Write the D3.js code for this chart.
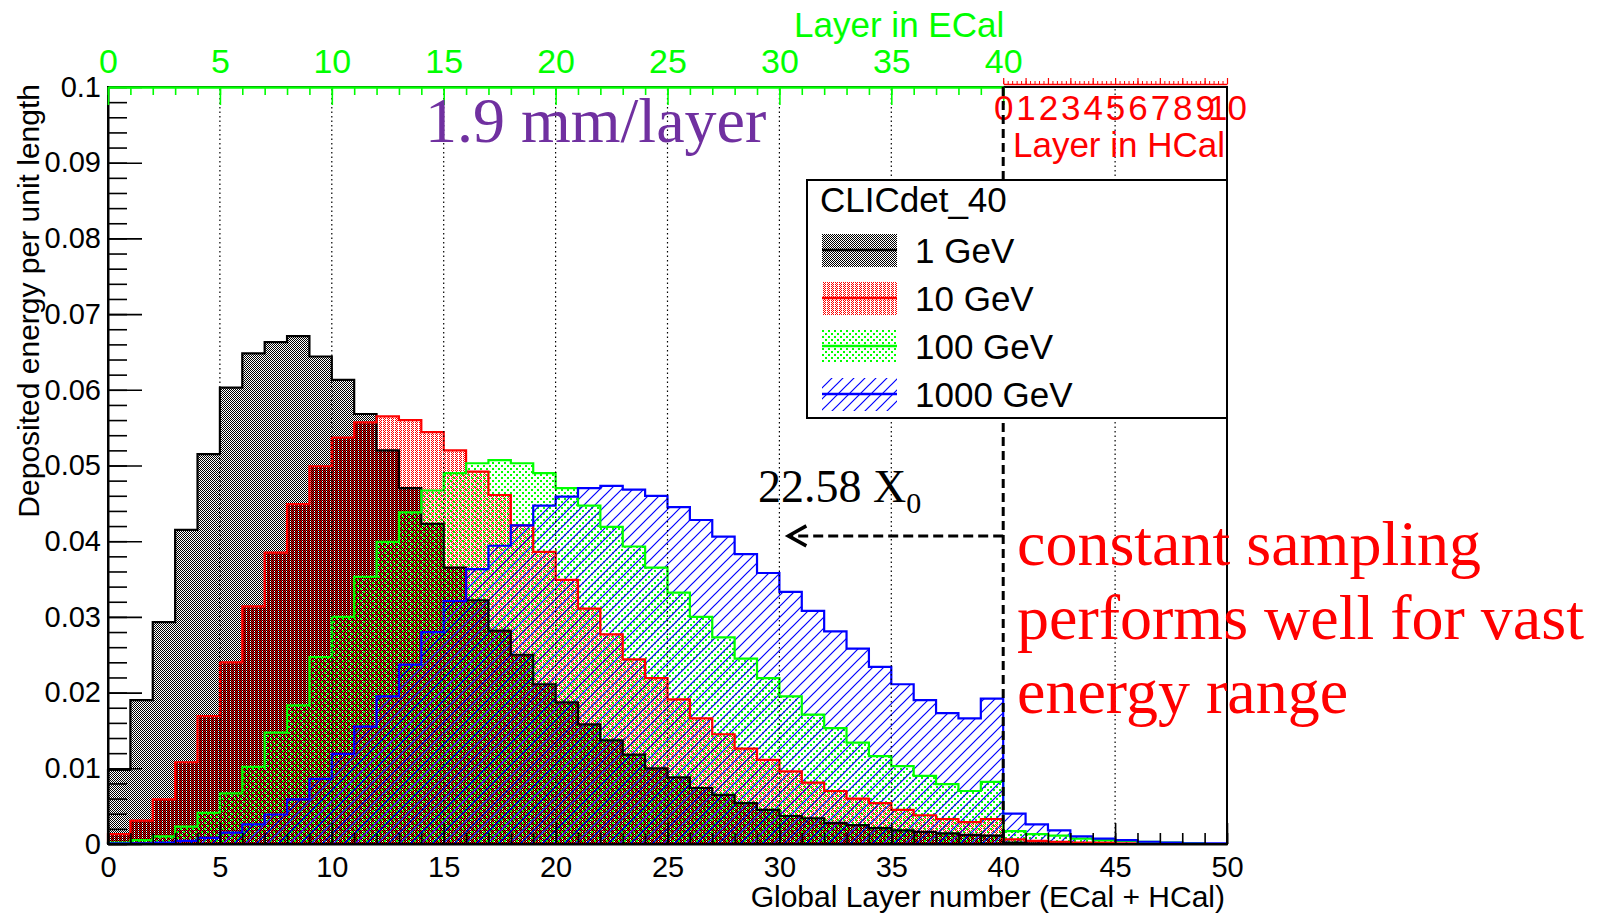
<!DOCTYPE html>
<html><head><meta charset="utf-8">
<script src="https://cdn.jsdelivr.net/npm/d3@7"></script>
<style>html,body{margin:0;padding:0;background:#fff}svg{display:block}</style>
</head><body>
<svg id="c" width="1603" height="914"></svg>
<script>
// ---------- data ----------
const e1GeV = [0.0098,0.0190,0.0293,0.0415,0.0515,0.0603,0.0648,0.0663,0.0671,0.0644,
  0.0613,0.0568,0.0520,0.0470,0.0423,0.0365,0.0322,0.0282,0.0250,0.0211,
  0.0187,0.0158,0.0137,0.0118,0.0100,0.0088,0.0074,0.0065,0.0054,0.0045,
  0.0037,0.0034,0.0028,0.0025,0.0021,0.0018,0.0016,0.0014,0.0012,0.0011,
  0.0002,0.0001,0.0001,0.0001,0.0000,0.0000,0.0000,0.0000,0.0000,0.0000];
const e10GeV = [0.0013,0.0031,0.0059,0.0108,0.0169,0.0240,0.0314,0.0385,0.0449,0.0499,
  0.0537,0.0557,0.0565,0.0560,0.0544,0.0520,0.0492,0.0461,0.0421,0.0386,
  0.0349,0.0311,0.0277,0.0244,0.0219,0.0191,0.0166,0.0145,0.0126,0.0111,
  0.0096,0.0081,0.0070,0.0060,0.0054,0.0045,0.0038,0.0033,0.0029,0.0033,
  0.0006,0.0004,0.0003,0.0002,0.0002,0.0001,0.0001,0.0001,0.0000,0.0000];
const e100GeV = [0.0002,0.0005,0.0010,0.0023,0.0041,0.0067,0.0102,0.0147,0.0183,0.0247,
  0.0300,0.0353,0.0399,0.0438,0.0467,0.0490,0.0503,0.0507,0.0503,0.0490,
  0.0470,0.0447,0.0419,0.0393,0.0365,0.0332,0.0300,0.0273,0.0245,0.0219,
  0.0195,0.0171,0.0153,0.0134,0.0116,0.0103,0.0090,0.0079,0.0070,0.0082,
  0.0017,0.0013,0.0011,0.0007,0.0005,0.0004,0.0003,0.0002,0.0001,0.0000];
const e1000GeV = [0.0001,0.0001,0.0002,0.0004,0.0008,0.0015,0.0026,0.0039,0.0059,0.0086,
  0.0119,0.0155,0.0195,0.0237,0.0280,0.0321,0.0363,0.0394,0.0421,0.0447,
  0.0459,0.0470,0.0473,0.0468,0.0460,0.0445,0.0428,0.0406,0.0383,0.0358,
  0.0333,0.0308,0.0281,0.0258,0.0234,0.0211,0.0190,0.0173,0.0166,0.0192,
  0.0040,0.0026,0.0018,0.0010,0.0007,0.0005,0.0003,0.0002,0.0001,0.0001];
const seriesNames = ["1 GeV","10 GeV","100 GeV","1000 GeV"];
const seriesValues = [e1GeV, e10GeV, e100GeV, e1000GeV];
const seriesColors = ["#000000","#ff0000","#00ff00","#0000ff"];
const legendTitle = "CLICdet_40";
const xTicks = [0,5,10,15,20,25,30,35,40,45,50];
const yTicks = [0,0.01,0.02,0.03,0.04,0.05,0.06,0.07,0.08,0.09,0.1];
const ecalTicks = [0,5,10,15,20,25,30,35,40];
const hcalTicks = [0,1,2,3,4,5,6,7,8,9,10];
const gridLayers = [5,10,15,20,25,30,35,45];
const ecalLayers = 40;
const totalLayers = 50;

// ---------- layout ----------
const svg = d3.select("#c");
const L = 108, R = 1227, T = 87, B = 844;
const x = d3.scaleLinear([0, totalLayers], [L, R]);
const y = d3.scaleLinear([0, 0.1], [B, T]);
const xE = d3.scaleLinear([0, ecalLayers], [x(0), x(ecalLayers)]);
const xH = d3.scaleLinear([0, 10], [x(ecalLayers), x(totalLayers)]);
const SANS = "'Liberation Sans', Arial, Helvetica, sans-serif";
const SERIF = "'Liberation Serif', 'Times New Roman', serif";

// ---------- patterns ----------
const defs = svg.append("defs");
function pat(id, w, h) {
  return defs.append("pattern").attr("id", id).attr("patternUnits", "userSpaceOnUse")
    .attr("width", w).attr("height", h).attr("shape-rendering", "crispEdges");
}
function px(p, pts, w, color) {
  pts.forEach(([a, b]) => p.append("rect").attr("x", a).attr("y", b).attr("width", w).attr("height", w).attr("fill", color));
}
px(pat("p0", 4, 2), [[0,0],[2,0],[1,1],[3,1]], 1, "#000");
px(pat("p1", 4, 2), [[1,0],[3,0],[0,1]], 1, "#f00");
px(pat("p2", 6, 6), [[0,0],[3,3]], 1.5, "#0f0");
let p = defs.append("pattern").attr("id","p3").attr("patternUnits","userSpaceOnUse").attr("width",11).attr("height",11);
p.append("path").attr("d","M-1,1 L1,-1 M0,11 L11,0 M10,12 L12,10").attr("stroke","#00f").attr("stroke-width",1.2);

// ---------- histograms ----------
const area = d3.area().x(d => x(d[0])).y0(y(0)).y1(d => y(d[1])).curve(d3.curveStepAfter);
const line = d3.line().x(d => x(d[0])).y(d => y(d[1])).curve(d3.curveStepAfter);
seriesValues.forEach((vals, k) => {
  const pts = vals.map((v, i) => [i, v]);
  pts.push([vals.length, vals[vals.length - 1]]);
  svg.append("path").attr("d", area(pts)).attr("fill", `url(#p${k})`);
});
seriesValues.forEach((vals, k) => {
  const pts = vals.map((v, i) => [i, v]);
  pts.push([vals.length, vals[vals.length - 1]]);
  const outline = [[0, 0]].concat(pts, [[vals.length, 0]]);
  svg.append("path").attr("d", line(outline)).attr("fill", "none")
    .attr("stroke", seriesColors[k]).attr("stroke-width", 2.2);
});

// ---------- grid ----------
svg.append("g").selectAll("line").data(gridLayers).join("line")
  .attr("x1", d => x(d)).attr("x2", d => x(d)).attr("y1", T + 2).attr("y2", B)
  .attr("stroke", "#000").attr("stroke-width", 1.2).attr("stroke-dasharray", "1.5,3");

// ---------- frame ----------
svg.append("rect").attr("x", L).attr("y", T).attr("width", R - L).attr("height", B - T)
  .attr("fill", "none").attr("stroke", "#000").attr("stroke-width", 2);

const styleAxis = (g, color, size) => {
  g.selectAll("line").attr("stroke", color).attr("stroke-width", 1.6);
  g.selectAll("text").attr("fill", color).attr("font-size", size).attr("font-family", SANS);
};
// bottom axis
let g = svg.append("g").attr("transform", `translate(0,${B})`)
  .call(d3.axisBottom(x).tickValues(d3.range(0, totalLayers + 1)).tickSizeInner(-11).tickSizeOuter(0).tickFormat(""));
g.select(".domain").remove(); styleAxis(g, "#000", 29);
g = svg.append("g").attr("transform", `translate(0,${B})`)
  .call(d3.axisBottom(x).tickValues(xTicks).tickSizeInner(-21).tickSizeOuter(0).tickPadding(12));
g.select(".domain").attr("stroke", "#000").attr("stroke-width", 2); styleAxis(g, "#000", 29);

// left axis
const yfmt = d => d === 0 ? "0" : String(+d.toFixed(2));
g = svg.append("g").attr("transform", `translate(${L},0)`)
  .call(d3.axisLeft(y).tickValues(d3.range(0, 101, 2).map(v => v / 1000)).tickSizeInner(-19).tickSizeOuter(0).tickFormat(""));
g.select(".domain").remove(); styleAxis(g, "#000", 29);
g = svg.append("g").attr("transform", `translate(${L},0)`)
  .call(d3.axisLeft(y).tickValues(yTicks).tickSizeInner(-34).tickSizeOuter(0).tickPadding(7).tickFormat(yfmt));
g.select(".domain").attr("stroke", "#000").attr("stroke-width", 2); styleAxis(g, "#000", 29);

// top ECal axis (green)
g = svg.append("g").attr("transform", `translate(0,${T})`)
  .call(d3.axisTop(xE).tickValues(d3.range(0, ecalLayers + 1)).tickSizeInner(-8).tickSizeOuter(0).tickFormat(""));
g.select(".domain").remove(); styleAxis(g, "#00ff00", 34);
g = svg.append("g").attr("transform", `translate(0,${T})`)
  .call(d3.axisTop(xE).tickValues(ecalTicks).tickSizeInner(-18).tickSizeOuter(0).tickPadding(14));
g.select(".domain").attr("stroke", "#00ff00").attr("stroke-width", 2.5); styleAxis(g, "#00ff00", 34);

// top HCal axis (red)
g = svg.append("g").attr("transform", `translate(0,${T - 3})`)
  .call(d3.axisTop(xH).tickValues(d3.range(0, 51).map(v => v / 5)).tickSizeInner(3).tickSizeOuter(0).tickFormat(""));
g.select(".domain").attr("stroke", "#ff0000").attr("stroke-width", 1.5); styleAxis(g, "#ff0000", 34);
g.selectAll("line").attr("stroke-width", 1);
g = svg.append("g").attr("transform", `translate(0,${T - 3})`)
  .call(d3.axisTop(xH).tickValues(hcalTicks).tickSizeInner(6).tickSizeOuter(0).tickFormat(""));
g.select(".domain").remove(); styleAxis(g, "#ff0000", 34); g.selectAll("line").attr("stroke-width", 1.2);
g = svg.append("g").attr("transform", `translate(0,${T - 3})`)
  .call(d3.axisBottom(xH).tickValues(hcalTicks).tickSize(0).tickPadding(11));
g.select(".domain").remove(); styleAxis(g, "#ff0000", 35);

// ---------- ECal/HCal boundary and arrow ----------
svg.append("line").attr("x1", x(ecalLayers)).attr("x2", x(ecalLayers)).attr("y1", T).attr("y2", B)
  .attr("stroke", "#000").attr("stroke-width", 3).attr("stroke-dasharray", "9,5");
const arrowY = y(0.0407), arrowTip = x(30.4);
svg.append("line").attr("x1", x(ecalLayers)).attr("x2", arrowTip + 2).attr("y1", arrowY).attr("y2", arrowY)
  .attr("stroke", "#000").attr("stroke-width", 3).attr("stroke-dasharray", "10,5");
svg.append("path").attr("d", `M${arrowTip + 18},${arrowY - 10} L${arrowTip},${arrowY} L${arrowTip + 18},${arrowY + 10}`)
  .attr("fill", "none").attr("stroke", "#000").attr("stroke-width", 3.5).attr("stroke-linejoin", "miter");

// ---------- legend ----------
const lg = svg.append("g");
lg.append("rect").attr("x", 807).attr("y", 180).attr("width", R - 807).attr("height", 238)
  .attr("fill", "#fff").attr("stroke", "#000").attr("stroke-width", 2);
lg.append("text").attr("x", 820).attr("y", 212).text(legendTitle)
  .attr("font-family", SANS).attr("font-size", 35).attr("fill", "#000");
seriesNames.forEach((name, k) => {
  const cy = 250 + 48 * k;
  lg.append("rect").attr("x", 822).attr("y", cy - 16).attr("width", 75).attr("height", 33)
    .attr("fill", `url(#p${k})`);
  lg.append("line").attr("x1", 822).attr("x2", 897).attr("y1", cy).attr("y2", cy)
    .attr("stroke", seriesColors[k]).attr("stroke-width", 2.5);
  lg.append("text").attr("x", 915).attr("y", cy + 12.5).text(name)
    .attr("font-family", SANS).attr("font-size", 35).attr("fill", "#000");
});

// ---------- titles ----------
svg.append("text").attr("transform", `translate(39,84) rotate(-90)`).attr("text-anchor", "end")
  .attr("font-family", SANS).attr("font-size", 30).text("Deposited energy per unit length");
svg.append("text").attr("x", 1225).attr("y", 907).attr("text-anchor", "end")
  .attr("font-family", SANS).attr("font-size", 30).text("Global Layer number (ECal + HCal)");
svg.append("text").attr("x", x(ecalLayers) + 1).attr("y", 37).attr("text-anchor", "end")
  .attr("font-family", SANS).attr("font-size", 35).attr("fill", "#00ff00").text("Layer in ECal");
svg.append("text").attr("x", 1225).attr("y", 157).attr("text-anchor", "end")
  .attr("font-family", SANS).attr("font-size", 35).attr("fill", "#ff0000").text("Layer in HCal");

// ---------- annotations ----------
svg.append("text").attr("x", 425).attr("y", 142).attr("font-family", SERIF).attr("font-size", 64)
  .attr("fill", "#7030a0").text("1.9 mm/layer");
const xt = svg.append("text").attr("x", 758).attr("y", 502).attr("font-family", SERIF).attr("font-size", 46).attr("fill", "#000");
xt.append("tspan").text("22.58 X");
xt.append("tspan").attr("font-size", 30).attr("dy", 11).text("0");
const ann = ["constant sampling", "performs well for vast", "energy range"];
svg.append("g").selectAll("text").data(ann).join("text")
  .attr("x", 1017).attr("y", (d, i) => 565 + 74 * i)
  .attr("font-family", SERIF).attr("font-size", 64).attr("fill", "#ff0000").text(d => d);
</script>
</body></html>
